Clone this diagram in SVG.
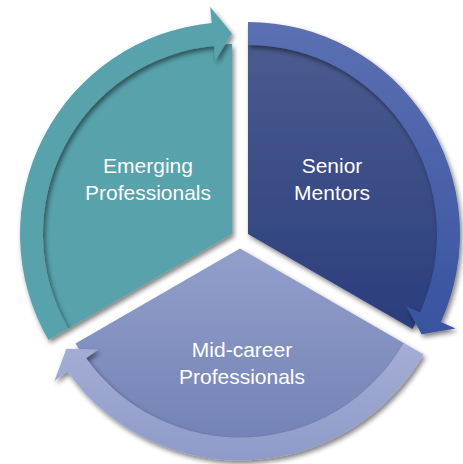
<svg xmlns="http://www.w3.org/2000/svg" width="463" height="464" viewBox="0 0 463 464">
  <defs>
    <filter id="shadow" x="-20%" y="-20%" width="140%" height="140%">
      <feGaussianBlur in="SourceAlpha" stdDeviation="2.5"/>
      <feOffset dx="1.5" dy="3" result="b"/>
      <feComponentTransfer><feFuncA type="linear" slope="0.5"/></feComponentTransfer>
      <feMerge><feMergeNode/><feMergeNode in="SourceGraphic"/></feMerge>
    </filter>
    <linearGradient id="gSeniorPie" x1="0" y1="44" x2="0" y2="330" gradientUnits="userSpaceOnUse">
      <stop offset="0" stop-color="#4b5b8f"/>
      <stop offset="1" stop-color="#2a3d7c"/>
    </linearGradient>
    <linearGradient id="gSeniorBand" x1="0" y1="22" x2="0" y2="335" gradientUnits="userSpaceOnUse">
      <stop offset="0" stop-color="#5b70b2"/>
      <stop offset="1" stop-color="#3853a0"/>
    </linearGradient>
    <linearGradient id="gMidPie" x1="0" y1="250" x2="0" y2="440" gradientUnits="userSpaceOnUse">
      <stop offset="0" stop-color="#929fcb"/>
      <stop offset="1" stop-color="#7483b6"/>
    </linearGradient>
    <linearGradient id="gMidBand" x1="0" y1="340" x2="0" y2="462" gradientUnits="userSpaceOnUse">
      <stop offset="0" stop-color="#a5aed5"/>
      <stop offset="1" stop-color="#8e9ac8"/>
    </linearGradient>
  </defs>
  <style>
    .pie { filter: url(#shadow); }
    .arrow { filter: url(#shadow); }
    .teal { fill: #59a2ac; }
    .label { font-family: "Liberation Sans", Arial, sans-serif; font-size: 21px; fill: #ffffff; text-anchor: middle; }
  </style>

  <g id="node-emerging">
    <path class="pie teal" d="M232,234 L232,44 A190,190 0 0 0 67.5,329 Z"/>
    <text class="label" x="148" y="173">Emerging</text>
    <text class="label" x="148" y="199.5">Professionals</text>
  </g>
  <g id="node-senior">
    <path class="pie" fill="url(#gSeniorPie)" d="M248,234 L248,44 A190,190 0 0 1 412.5,329 Z"/>
    <text class="label" x="332" y="173">Senior</text>
    <text class="label" x="332" y="199.5">Mentors</text>
  </g>
  <g id="node-mid">
    <path class="pie" fill="url(#gMidPie)" d="M240,248.5 L404.5,343.5 A190,190 0 0 1 75.5,343.5 Z"/>
    <text class="label" x="242" y="357">Mid-career</text>
    <text class="label" x="242" y="384">Professionals</text>
  </g>

  <g id="connectors">
    <path class="arrow teal" d="M48.4,340 A212,212 0 0 1 211.7,23 L210.2,7 L232,33.5 L215.3,60.8 L213.9,45.9 A189,189 0 0 0 68.3,328.5 Z"/>
    <path class="arrow" fill="url(#gSeniorBand)" d="M248,22 A212,212 0 0 1 440.9,321.9 L455.5,328.6 L421.6,334.3 L406.3,306.2 L420,312.4 A189,189 0 0 0 248,45 Z"/>
    <path class="arrow" fill="url(#gMidBand)" d="M423.6,354.5 A212,212 0 0 1 67.4,371.6 L54.4,380.9 L66.4,348.8 L98.3,349.5 L86.1,358.3 A189,189 0 0 0 403.7,343 Z"/>
  </g>
</svg>
